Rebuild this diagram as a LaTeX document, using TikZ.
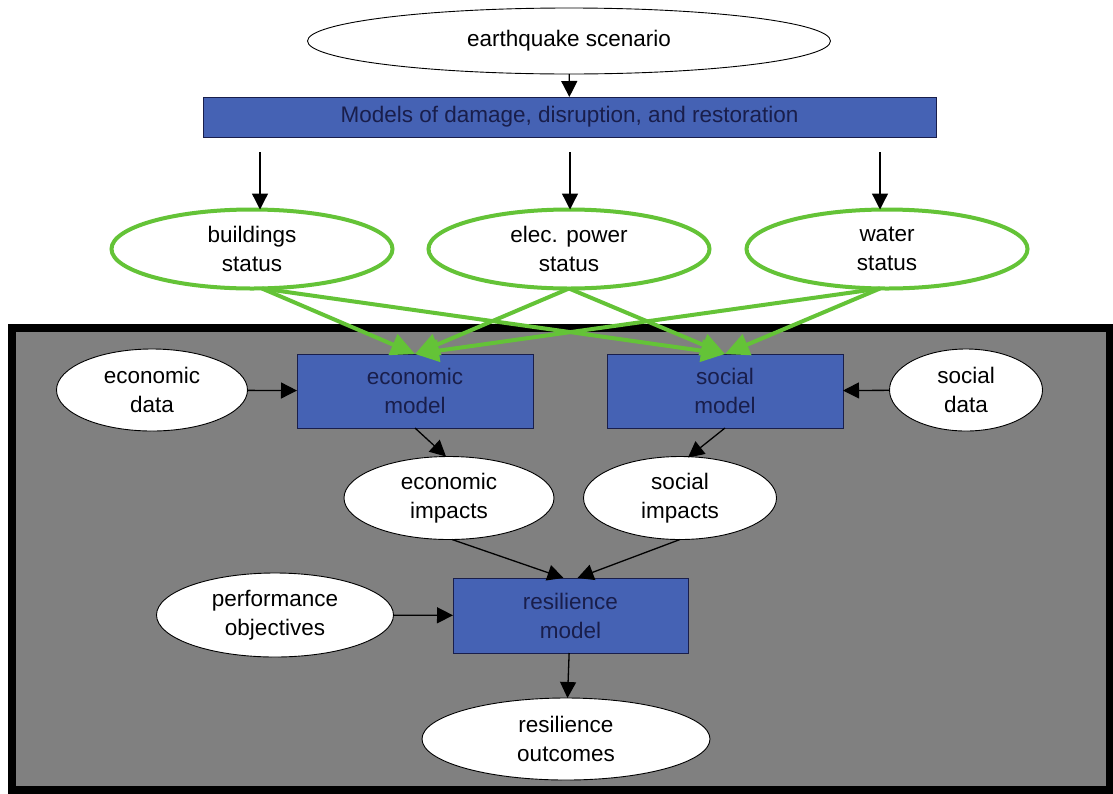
\documentclass[tikz,border=0pt]{standalone}
\usepackage{fontspec}
\setmainfont{Liberation Sans}
\usetikzlibrary{shapes.geometric,arrows.meta}
\definecolor{boxblue}{RGB}{69,98,180}
\definecolor{navy}{RGB}{25,30,75}
\definecolor{grn}{RGB}{100,195,55}
\definecolor{panel}{RGB}{128,128,128}
\begin{document}
\begin{tikzpicture}[x=1pt,y=-1pt,
  every node/.style={font=\fontsize{22.5}{29}\selectfont, align=center, inner sep=0pt, outer sep=0pt},
  oval/.style={ellipse, draw=black, line width=0.9pt, fill=white},
  goval/.style={ellipse, draw=grn, line width=4pt, fill=white, minimum width=281pt, minimum height=79pt},
  bbox/.style={rectangle, draw=navy, line width=1pt, fill=boxblue, text=navy},
  arr/.style={-{Triangle[length=16pt,width=16pt]}, line width=1.3pt, black},
  garr/.style={-{Triangle[length=24pt,width=22pt]}, line width=4pt, grn},
]
\useasboundingbox (0,0) rectangle (1113,793);
\fill[white] (0,0) rectangle (1113,793);
\draw[line width=8pt, fill=panel] (12,327.5) rectangle (1109.5,790);

% top part
\node[oval, minimum width=523pt, minimum height=66pt] (eq) at (569,41) {earthquake scenario};
\node[bbox, minimum width=733pt, minimum height=40pt] (models) at (569.5,117) {Models of damage, disruption, and restoration};
\node[goval] (bld) at (252,249) {buildings\\status};
\node[goval] (elec) at (569,249) {elec. power\\status};
\node[goval] (wat) at (887,249) {water\\status};

\coordinate (s1) at (260,152);
\coordinate (s2) at (570,152);
\coordinate (s3) at (880,152);
\draw[arr] (eq) -- (models);
\draw[arr] (s1) -- ([xshift=8pt]bld.north);
\draw[arr] (s2) -- ([xshift=1pt]elec.north);
\draw[arr] (s3) -- ([xshift=-7pt]wat.north);

% panel contents
\node[bbox, minimum width=236pt, minimum height=74pt] (econ) at (415,391) {economic\\model};
\node[bbox, minimum width=236pt, minimum height=74pt] (soc) at (725,391) {social\\model};
\node[oval, minimum width=191pt, minimum height=82pt] (edata) at (152,390) {economic\\data};
\node[oval, minimum width=153pt, minimum height=82pt] (sdata) at (966,390) {social\\data};
\node[oval, minimum width=210pt, minimum height=83pt] (eimp) at (449,498) {economic\\impacts};
\node[oval, minimum width=193pt, minimum height=83pt] (simp) at (680,498) {social\\impacts};
\node[bbox, minimum width=235pt, minimum height=75pt] (res) at (570.5,615.5) {resilience\\model};
\node[oval, minimum width=237pt, minimum height=84pt] (perf) at (275,615) {performance\\objectives};
\node[oval, minimum width=288pt, minimum height=82pt] (out) at (566,739) {resilience\\outcomes};

\draw[arr] (edata) -- (econ);
\draw[arr] (sdata) -- (soc);
\draw[arr] (econ.south) -- ([xshift=-3pt]eimp.north);
\draw[arr] (soc.south) -- ([xshift=8pt,yshift=-1pt]simp.north);
\draw[arr] ([xshift=3pt]eimp.south) -- ([xshift=-7pt]res.north);
\draw[arr] (simp.south) -- ([xshift=7pt]res.north);
\draw[arr] (perf) -- (res);
\draw[arr] (res) -- (out);

% green connectors
\draw[garr] ([xshift=10pt]bld.south) -- (econ.north);
\draw[garr] ([xshift=10pt]bld.south) -- (soc.north);
\draw[garr] (elec.south) -- (econ.north);
\draw[garr] (elec.south) -- (soc.north);
\draw[garr] ([xshift=-7pt]wat.south) -- (econ.north);
\draw[garr] ([xshift=-7pt]wat.south) -- (soc.north);
\end{tikzpicture}
\end{document}
